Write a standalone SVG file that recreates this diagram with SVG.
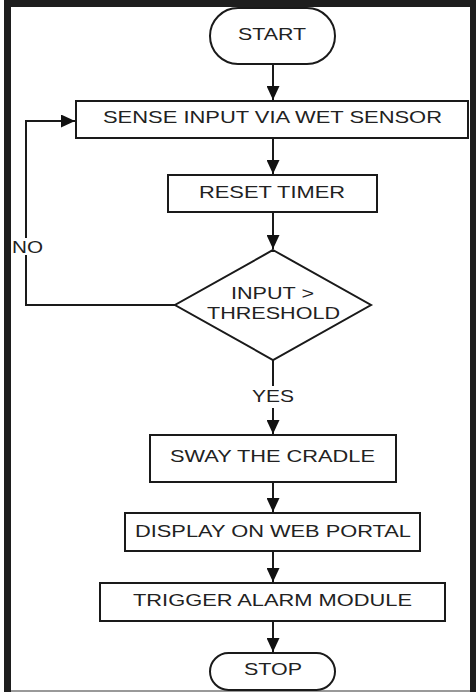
<svg xmlns="http://www.w3.org/2000/svg" width="476" height="692" viewBox="0 0 476 692">
<style>
.box{fill:#fff;stroke:#1a1a1a;stroke-width:2}
.ln{fill:none;stroke:#1a1a1a;stroke-width:2}
.t{font-family:"Liberation Sans",Arial,sans-serif;font-size:17px;fill:#222;text-anchor:middle}
.tl{font-family:"Liberation Sans",Arial,sans-serif;font-size:17px;fill:#222}
</style>
<defs>
<marker id="ah" markerUnits="userSpaceOnUse" markerWidth="14" markerHeight="13" refX="14" refY="6.5" orient="auto">
<path d="M0,0 L14,6.5 L0,13 Z" fill="#111"/>
</marker>
</defs>
<rect x="0" y="0" width="476" height="692" fill="#fff"/>
<g id="frame">
<rect x="4" y="0" width="7" height="692" fill="#1e1e1e"/>
<rect x="4" y="0" width="472" height="7" fill="#1e1e1e"/>
<rect x="470" y="0" width="6" height="692" fill="#1e1e1e"/>
<rect x="11" y="690" width="459" height="2" fill="#999"/>
</g>
<g id="connectors">
<line class="ln" x1="273" y1="64" x2="273" y2="100" marker-end="url(#ah)"/>
<line class="ln" x1="273" y1="138" x2="273" y2="174" marker-end="url(#ah)"/>
<line class="ln" x1="273" y1="212" x2="273" y2="249" marker-end="url(#ah)"/>
<polyline class="ln" points="175,305 26,305 26,121 75,121" marker-end="url(#ah)"/>
<line class="ln" x1="273" y1="360" x2="273" y2="386"/>
<line class="ln" x1="273" y1="408" x2="273" y2="434" marker-end="url(#ah)"/>
<line class="ln" x1="273" y1="482" x2="273" y2="512" marker-end="url(#ah)"/>
<line class="ln" x1="273" y1="551" x2="273" y2="582" marker-end="url(#ah)"/>
<line class="ln" x1="273" y1="621" x2="273" y2="652" marker-end="url(#ah)"/>
<rect x="12" y="238" width="32" height="17" fill="#fff"/>
<text class="tl" x="12" y="253" textLength="31" lengthAdjust="spacingAndGlyphs">NO</text>
<text class="t" x="273" y="402" textLength="42" lengthAdjust="spacingAndGlyphs">YES</text>
</g>
<g id="start">
<rect class="box" x="210" y="8" width="125" height="56" rx="28"/>
<text class="t" x="272" y="40" textLength="68" lengthAdjust="spacingAndGlyphs">START</text>
</g>
<g id="sense">
<rect class="box" x="76" y="101" width="392" height="37"/>
<text class="t" x="272.5" y="123" textLength="339" lengthAdjust="spacingAndGlyphs">SENSE INPUT VIA WET SENSOR</text>
</g>
<g id="reset">
<rect class="box" x="168" y="175" width="209" height="37"/>
<text class="t" x="272" y="198" textLength="146" lengthAdjust="spacingAndGlyphs">RESET TIMER</text>
</g>
<g id="decision">
<polygon class="box" points="273,250 371,305 273,360 175,305"/>
<text class="t" x="272.5" y="299" textLength="83" lengthAdjust="spacingAndGlyphs">INPUT &gt;</text>
<text class="t" x="273.5" y="319" textLength="133" lengthAdjust="spacingAndGlyphs">THRESHOLD</text>
</g>
<g id="sway">
<rect class="box" x="150" y="435" width="246" height="47"/>
<text class="t" x="272.5" y="462" textLength="205" lengthAdjust="spacingAndGlyphs">SWAY THE CRADLE</text>
</g>
<g id="display">
<rect class="box" x="125" y="513" width="295" height="38"/>
<text class="t" x="273" y="537" textLength="276" lengthAdjust="spacingAndGlyphs">DISPLAY ON WEB PORTAL</text>
</g>
<g id="trigger">
<rect class="box" x="100" y="583" width="345" height="38"/>
<text class="t" x="272.5" y="606" textLength="279" lengthAdjust="spacingAndGlyphs">TRIGGER ALARM MODULE</text>
</g>
<g id="stop">
<rect class="box" x="210" y="653" width="125" height="37" rx="18.5"/>
<text class="t" x="273" y="675" textLength="58" lengthAdjust="spacingAndGlyphs">STOP</text>
</g>
</svg>
